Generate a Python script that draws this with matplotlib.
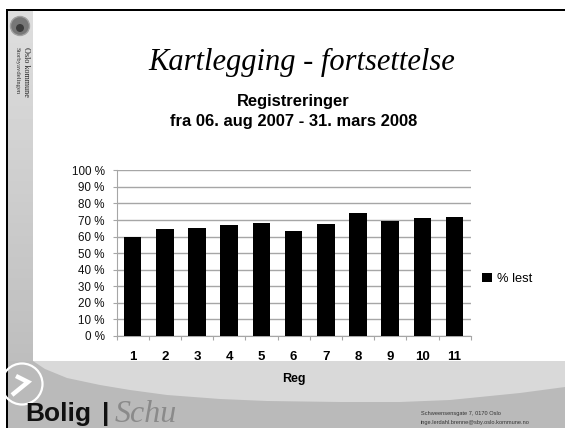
import numpy as np
import matplotlib
matplotlib.use("Agg")
import matplotlib.pyplot as plt
from matplotlib.patches import Circle, Polygon, Rectangle

# === Chart data ===
regs = ["1", "2", "3", "4", "5", "6", "7", "8", "9", "10", "11"]
pct_read = [60, 64.8, 65.4, 67.2, 68.2, 63.6, 67.8, 74, 69.6, 71.2, 71.8]
y_ticks = [0, 10, 20, 30, 40, 50, 60, 70, 80, 90, 100]

W, H = 565, 428
plt.rcParams['font.family'] = ['Liberation Sans', 'DejaVu Sans']

fig = plt.figure(figsize=(W / 100, H / 100), dpi=100)

# === Slide background, drawn in pixel coordinates ===
bg = fig.add_axes([0, 0, 1, 1])
bg.set_xlim(0, W)
bg.set_ylim(H, 0)
bg.axis('off')

# sidebar
bg.imshow(np.linspace(0.87, 0.72, 100).reshape(-1, 1), cmap='gray', vmin=0, vmax=1,
          extent=[8, 33, 428, 10], aspect='auto', zorder=1)
bg.set_xlim(0, W)
bg.set_ylim(H, 0)

# bottom band
bg.add_patch(Rectangle((8, 361), W - 8, H - 361, color='#d9d9d9', lw=0, zorder=2))
curve_x = [33, 45, 67, 100, 130, 167, 220, 267, 340, 400, 450, 480, 520, 565]
curve_y = [361, 369, 378, 385, 390, 395, 399, 401, 402, 402, 400, 397, 393, 387]
bg.add_patch(Polygon([(8, 361)] + list(zip(curve_x, curve_y)) + [(565, 428), (8, 428)],
                     closed=True, color='#bababa', lw=0, zorder=3))

# black frame
bg.add_patch(Rectangle((6, 9), 2.2, H - 9, color='black', lw=0, zorder=4))
bg.add_patch(Rectangle((6, 9), W - 6, 2.2, color='black', lw=0, zorder=4))

# crest
bg.add_patch(Circle((20, 26), 9.5, fc='#777777', ec='#a0a0a0', lw=1, zorder=5))
bg.add_patch(Circle((20, 28), 4, fc='#3c3c3c', lw=0, zorder=6))

bg.text(25.5, 47, "Oslo kommune", rotation=270, family='Liberation Serif', fontsize=5.9,
        color='#222222', ha='center', va='top', zorder=5)
bg.text(16.5, 47, "Storbyavdelingen", rotation=270,
        family='Liberation Serif', fontsize=4.8, color='#333333', ha='center', va='top', zorder=5)

# arrow logo
bg.add_patch(Circle((22, 384), 20.5, fc='none', ec='white', lw=1.6, zorder=5))
bg.plot([16, 28, 12], [376, 382, 395], color='white', lw=3.2, solid_capstyle='butt',
        solid_joinstyle='miter', zorder=5)

# logo and address
bg.text(25, 421.5, "Bolig", fontsize=19, fontweight='bold', color='#111111', va='baseline', zorder=6)
bg.text(102, 421.5, "|", fontsize=19, fontweight='bold', color='#111111', va='baseline', zorder=6)
bg.text(115, 421.5, "Schu", fontsize=23, family='Liberation Serif', style='italic',
        color='#8a8a8a', va='baseline', zorder=6)
bg.text(421, 413, "Schweensensgate 7, 0170 Oslo", fontsize=4.1, color='#333333', va='center', zorder=6)
bg.text(421, 422.5, "inge.lerdahl.brenne@sby.oslo.kommune.no", fontsize=4.1, color='#333333',
        va='center', zorder=6)

# === Titles ===
bg.text(302, 62, "Kartlegging - fortsettelse", family='Liberation Serif', style='italic',
        fontsize=22, color='black', ha='center', va='center', zorder=6)
bg.text(293, 101, "Registreringer", fontsize=11.9, fontweight='bold', ha='center', va='center', zorder=6)
bg.text(294, 121, "fra 06. aug 2007 - 31. mars 2008", fontsize=11.9, fontweight='bold',
        ha='center', va='center', zorder=6)

# === Bar chart ===
left, right, top, bottom = 116.5, 470.7, 170.3, 336
ax = fig.add_axes([left / W, 1 - bottom / H, (right - left) / W, (bottom - top) / H])
ax.patch.set_alpha(0)
x = np.arange(len(regs))
ax.bar(x, pct_read, width=0.55, color='black', zorder=3, label='% lest')
ax.set_xlim(-0.5, len(regs) - 0.5)
ax.set_ylim(0, 100)
ax.set_yticks(y_ticks)
ax.set_yticklabels([f"{v} %" for v in y_ticks], fontsize=8.4, color='#111111')
ax.set_xticks(x)
ax.set_xticklabels(regs, fontsize=9.5, color='black', fontweight='bold')
ax.set_xticks(np.arange(-0.5, len(regs)), minor=True)
ax.tick_params(axis='x', which='major', length=0, pad=11)
ax.tick_params(axis='x', which='minor', length=3, width=0.8, color='#a6a6a6')
ax.tick_params(axis='y', length=3, width=0.8, color='#a6a6a6', pad=5.5)
ax.grid(axis='y', color='#a6a6a6', lw=1, zorder=1)
for side in ['top', 'right']:
    ax.spines[side].set_visible(False)
for side in ['left', 'bottom']:
    ax.spines[side].set_color('#a6a6a6')
    ax.spines[side].set_linewidth(0.8)
ax.set_xlabel("Reg", fontsize=9, fontweight='bold', labelpad=7)

leg = ax.legend(loc='center left', bbox_to_anchor=(1.033, 0.345), frameon=False, fontsize=9.3,
                handlelength=0.75, handleheight=0.75, handletextpad=0.4, borderpad=0, borderaxespad=0)

fig.savefig("out.png", dpi=100)
